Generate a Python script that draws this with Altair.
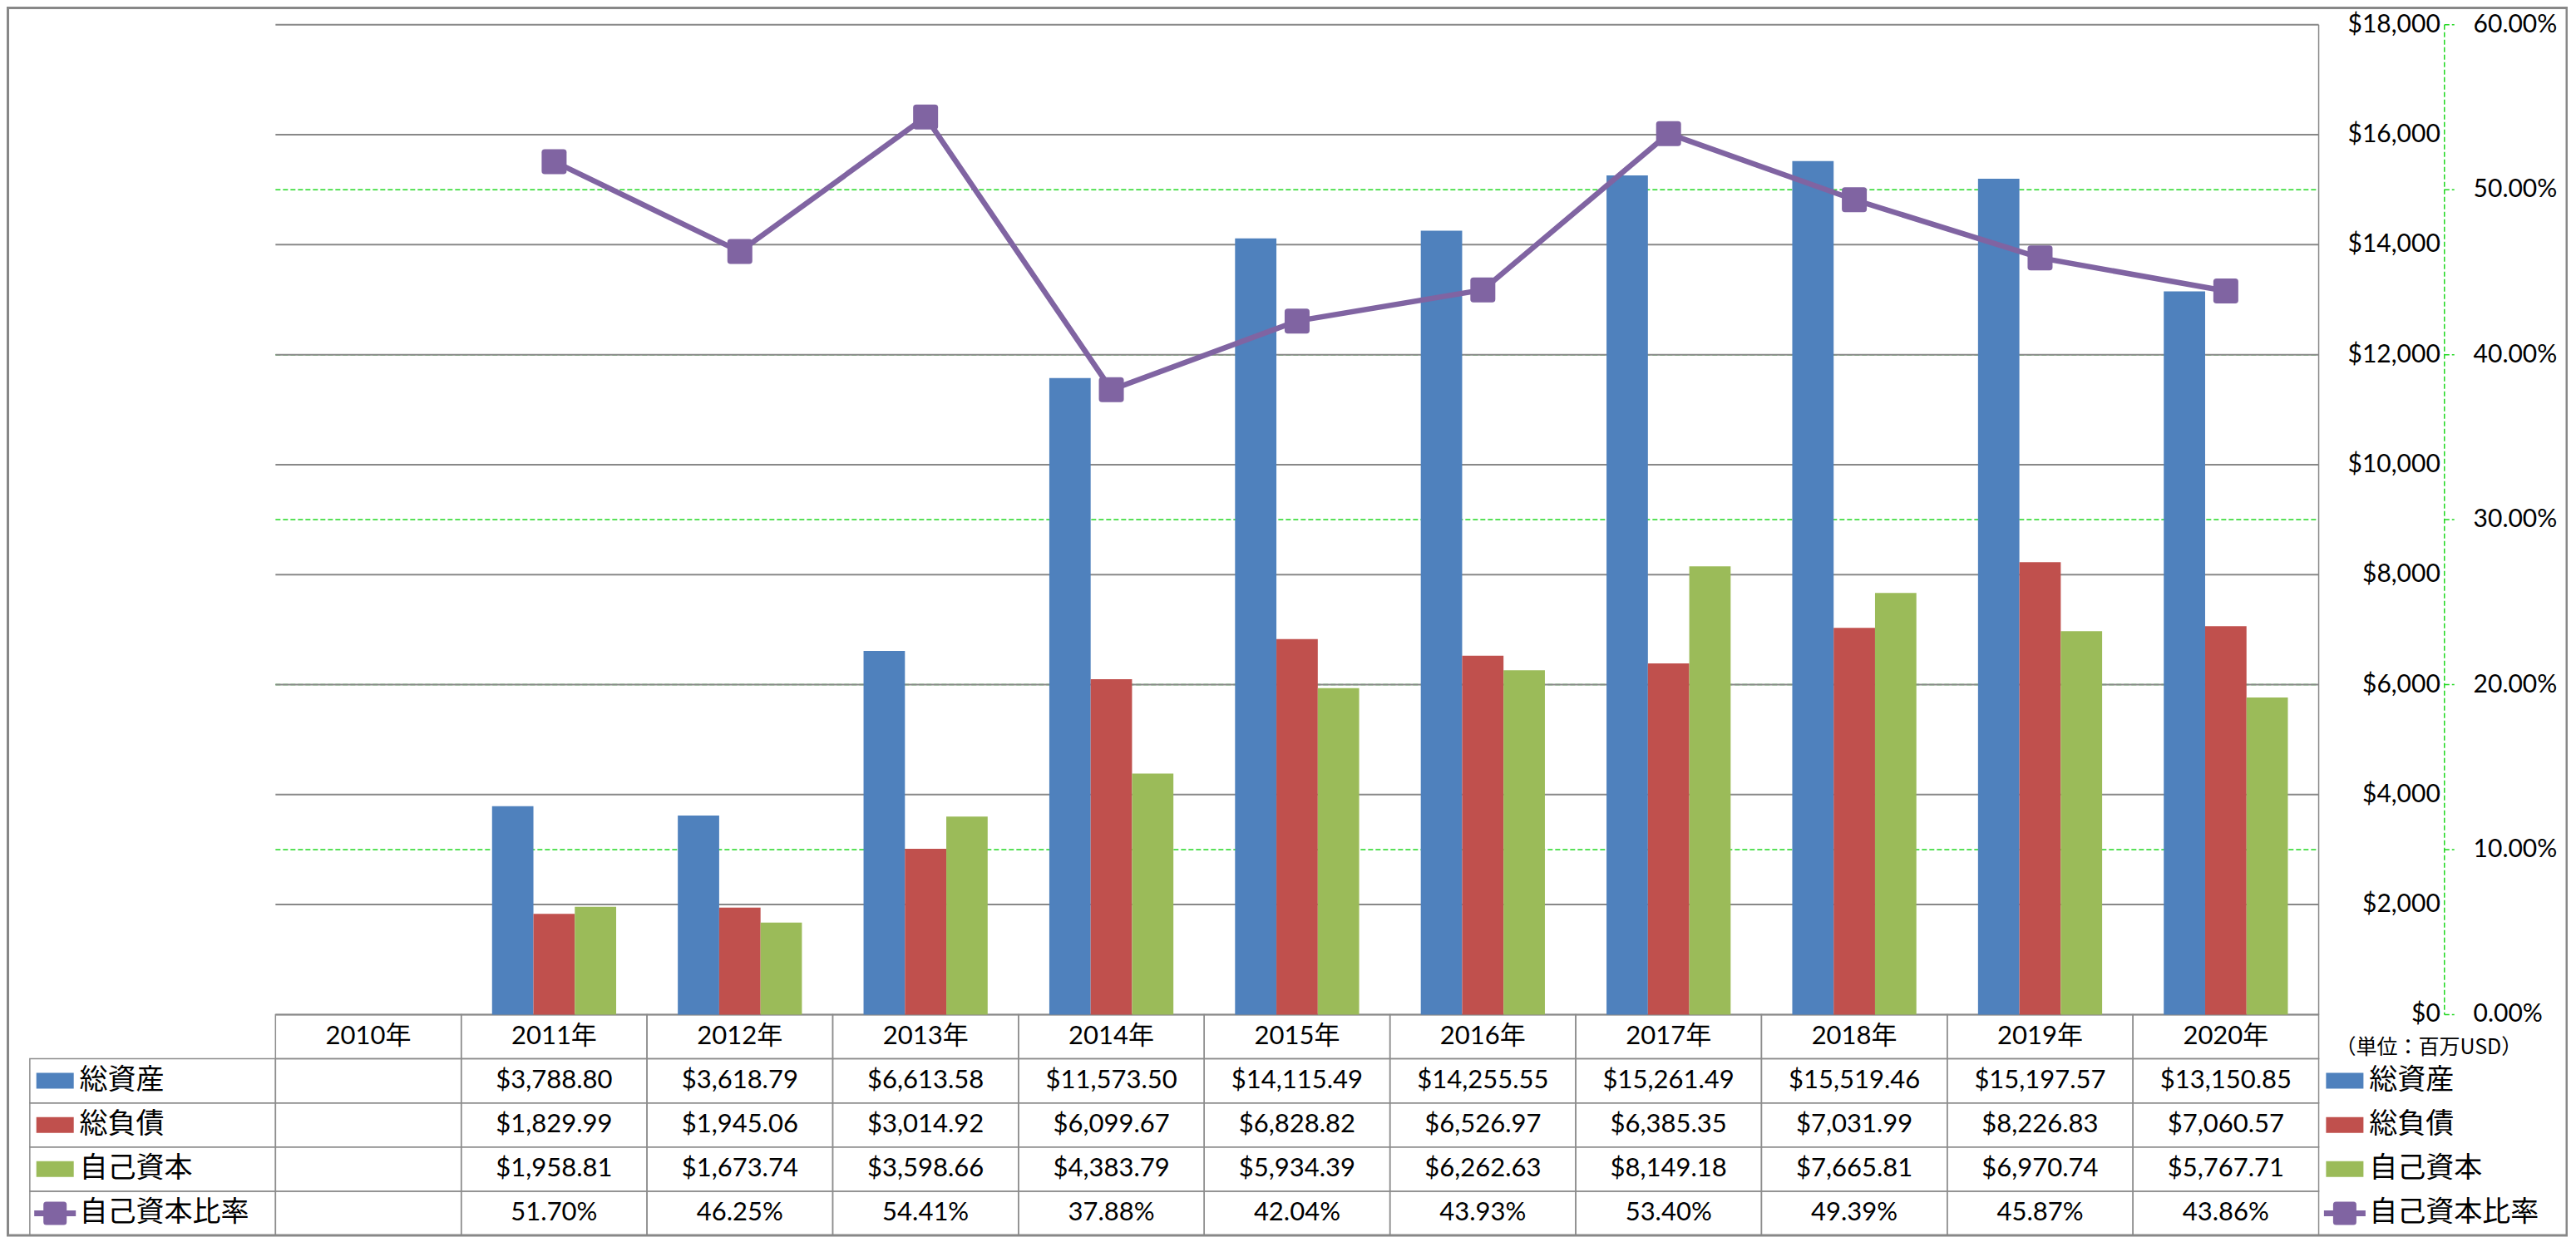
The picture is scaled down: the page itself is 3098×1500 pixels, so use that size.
import altair as alt
import pandas as pd

# ---------------- data ----------------
years = ["2010年", "2011年", "2012年", "2013年", "2014年", "2015年",
         "2016年", "2017年", "2018年", "2019年", "2020年"]
total_assets = [None, 3788.80, 3618.79, 6613.58, 11573.50, 14115.49,
                14255.55, 15261.49, 15519.46, 15197.57, 13150.85]
total_liabilities = [None, 1829.99, 1945.06, 3014.92, 6099.67, 6828.82,
                     6526.97, 6385.35, 7031.99, 8226.83, 7060.57]
equity = [None, 1958.81, 1673.74, 3598.66, 4383.79, 5934.39,
          6262.63, 8149.18, 7665.81, 6970.74, 5767.71]
equity_ratio = [None, 0.5170, 0.4625, 0.5441, 0.3788, 0.4204,
                0.4393, 0.5340, 0.4939, 0.4587, 0.4386]

series_names = ["総資産", "総負債", "自己資本"]
ratio_name = "自己資本比率"
series_colors = ["#4F81BD", "#C0504D", "#9BBB59"]
ratio_color = "#8064A2"
value_ticks = [0, 2000, 4000, 6000, 8000, 10000, 12000, 14000, 16000, 18000]
pct_ticks = [0.0, 0.1, 0.2, 0.3, 0.4, 0.5, 0.6]
unit_label = "（単位：百万USD）"
header_key = "年度"

# ---------------- layout helpers (reference pixel -> chart pixel) ----------------
W, H = 3080, 1480
KX = (W - 2) / 3094.0
KY = (H - 3) / 1496.0


def sx(v):
    return 1 + (v - 1) * KX


def sy(v):
    return 1 + (v - 1) * KY


GRID = "#888888"
TABLE = "#8d8d8d"
GREEN = "#22D822"
NUM_FONT = "Lato, 'Noto Sans CJK JP'"
JP_FONT = "'Noto Sans CJK JP'"

# ---------------- tables ----------------
series_values = [total_assets, total_liabilities, equity]
bar_rows = []
for name, vals in zip(series_names, series_values):
    for y, v in zip(years, vals):
        if v is not None:
            bar_rows.append({"year": y, "series": name, "value": v, "row": name})
bars_df = pd.DataFrame(bar_rows)

ratio_df = pd.DataFrame([{"year": y, "ratio": r, "row": ratio_name}
                         for y, r in zip(years, equity_ratio) if r is not None])

table_rows = [header_key] + series_names + [ratio_name]
cells_df = pd.DataFrame([{"year": y, "row": r} for r in table_rows for y in years])
header_df = pd.DataFrame({"year": years, "row": header_key})
legend_df = pd.DataFrame({"row": series_names, "color": series_colors})
legend_all_df = pd.DataFrame({"row": series_names + [ratio_name]})
ratio_legend_df = pd.DataFrame({"row": [ratio_name]})
vt_df = pd.DataFrame({"v": value_ticks})
pt_df = pd.DataFrame({"p": pct_ticks})
one_df = pd.DataFrame({"k": [0]})

# ---------------- scales ----------------
X = alt.X("year:N", sort=years, axis=None,
          scale=alt.Scale(domain=years, range=[sx(325), sx(2795)],
                          paddingInner=0, paddingOuter=0))
YV_SCALE = alt.Scale(domain=[0, 18000], range=[sy(1228), sy(22)], nice=False, zero=False)
YP_SCALE = alt.Scale(domain=[0, 0.6], range=[sy(1228), sy(22)], nice=False, zero=False)
ROW_SCALE = alt.Scale(domain=table_rows, range=[sy(1228), sy(1497)],
                      paddingInner=0, paddingOuter=0)
ROW = alt.Y("row:N", sort=table_rows, axis=None, scale=ROW_SCALE)
COLOR = alt.Color("row:N", legend=None,
                  scale=alt.Scale(domain=series_names, range=series_colors))

ROUND_SQ = ("M -0.75 -1 L 0.75 -1 Q 1 -1 1 -0.75 L 1 0.75 Q 1 1 0.75 1 "
            "L -0.75 1 Q -1 1 -1 0.75 L -1 -0.75 Q -1 -1 -0.75 -1 Z")

# ---------------- layers ----------------
cells = alt.Chart(cells_df).mark_rect(fillOpacity=0, stroke=TABLE, strokeWidth=1.5).encode(
    x=X, y=ROW)
left_cells = alt.Chart(legend_all_df).mark_rect(fillOpacity=0, stroke=TABLE, strokeWidth=1.5).encode(
    x=alt.value(sx(28)), x2=alt.value(sx(325)), y=ROW)

grid_green = alt.Chart(pt_df).transform_filter(
    (alt.datum.p > 0.001) & (alt.datum.p < 0.599)
).mark_rule(color=GREEN, strokeWidth=1.5, strokeDash=[6, 3]).encode(
    x=alt.value(sx(325)), x2=alt.value(sx(2795)),
    y=alt.Y("p:Q", scale=YP_SCALE, axis=None))

grid_gray = alt.Chart(vt_df).mark_rule(color=GRID, strokeWidth=2).encode(
    x=alt.value(sx(325)), x2=alt.value(sx(2795)),
    y=alt.Y("v:Q", scale=YV_SCALE, axis=None))

right_edge = alt.Chart(one_df).mark_rule(color=GRID, strokeWidth=1.5).encode(
    x=alt.value(sx(2795)), y=alt.value(sy(22)), y2=alt.value(sy(1228)))

green_axis = alt.Chart(one_df).mark_rule(color=GREEN, strokeWidth=1.5, strokeDash=[6, 3]).encode(
    x=alt.value(sx(2947)), y=alt.value(sy(22)), y2=alt.value(sy(1228)))

green_ticks = alt.Chart(pt_df).mark_rule(color=GREEN, strokeWidth=1.5, strokeDash=[6, 3]).encode(
    x=alt.value(sx(2947)), x2=alt.value(sx(2959)),
    y=alt.Y("p:Q", scale=YP_SCALE, axis=None))

bars = alt.Chart(bars_df).mark_bar(strokeWidth=0).encode(
    x=X,
    xOffset=alt.XOffset("series:N", sort=series_names,
                        scale=alt.Scale(domain=series_names, paddingInner=0, paddingOuter=0.745)),
    y=alt.Y("value:Q", scale=YV_SCALE, axis=None),
    color=alt.Color("series:N", legend=None,
                    scale=alt.Scale(domain=series_names, range=series_colors)))

ratio_line = alt.Chart(ratio_df).mark_line(color=ratio_color, strokeWidth=6.5).encode(
    x=X, y=alt.Y("ratio:Q", scale=YP_SCALE, axis=None))
ratio_pts = alt.Chart(ratio_df).mark_point(shape=ROUND_SQ, size=900, filled=True,
                                           color=ratio_color, opacity=1).encode(
    x=X, y=alt.Y("ratio:Q", scale=YP_SCALE, axis=None))

v_labels = alt.Chart(vt_df).mark_text(align="right", baseline="middle", font=NUM_FONT,
                                      fontSize=30, color="black").encode(
    x=alt.value(sx(2942)), y=alt.Y("v:Q", scale=YV_SCALE, axis=None),
    text=alt.Text("v:Q", format="$,d"))
p_labels = alt.Chart(pt_df).mark_text(align="left", baseline="middle", font=NUM_FONT,
                                      fontSize=30, color="black").encode(
    x=alt.value(sx(2982)), y=alt.Y("p:Q", scale=YP_SCALE, axis=None),
    text=alt.Text("p:Q", format=".2%"))

header_text = alt.Chart(header_df).mark_text(baseline="middle", font=NUM_FONT,
                                             fontSize=31, color="black").encode(
    x=X, y=ROW, text="year:N")
value_text = alt.Chart(bars_df).mark_text(baseline="middle", font=NUM_FONT,
                                          fontSize=31, color="black").encode(
    x=X, y=ROW, text=alt.Text("value:Q", format="$,.2f"))
ratio_text = alt.Chart(ratio_df).mark_text(baseline="middle", font=NUM_FONT,
                                           fontSize=31, color="black").encode(
    x=X, y=ROW, text=alt.Text("ratio:Q", format=".2%"))


def legend_layers(sw_left, text_left):
    sw = alt.Chart(legend_df).mark_tick(orient="horizontal", size=45, thickness=19,
                                        opacity=1).encode(
        x=alt.value(sx(sw_left + 22.5)), y=ROW, color=COLOR)
    ln = alt.Chart(ratio_legend_df).mark_tick(orient="horizontal", size=50, thickness=7,
                                              opacity=1, color=ratio_color).encode(
        x=alt.value(sx(sw_left + 22.5)), y=ROW)
    mk = alt.Chart(ratio_legend_df).mark_point(shape=ROUND_SQ, size=784, filled=True,
                                               opacity=1, color=ratio_color).encode(
        x=alt.value(sx(sw_left + 22.5)), y=ROW)
    tx = alt.Chart(legend_all_df).mark_text(align="left", baseline="middle", font=JP_FONT,
                                            fontSize=34, color="black").encode(
        x=alt.value(sx(text_left)), y=ROW, text="row:N")
    return [sw, ln, mk, tx]


unit_text = alt.Chart(one_df).transform_calculate(t=f"'{unit_label}'").mark_text(
    align="center", baseline="middle", font=JP_FONT, fontSize=25, color="black").encode(
    x=alt.value(sx(2928)), y=alt.value(sy(1268)), text="t:N")

border = alt.Chart(one_df).mark_rect(fillOpacity=0, stroke=GRID, strokeWidth=3).encode(
    x=alt.value(sx(1.5)), x2=alt.value(sx(3095)), y=alt.value(sy(1.5)), y2=alt.value(sy(1497)))

layers = [cells, left_cells, grid_green, grid_gray, right_edge, green_axis, green_ticks,
          bars, ratio_line, ratio_pts, v_labels, p_labels, header_text, value_text,
          ratio_text] + legend_layers(36, 88) + legend_layers(2804, 2856) + [unit_text, border]

chart = alt.layer(*layers).resolve_scale(
    y="independent", color="independent"
).properties(
    width=W, height=H, padding=0,
    autosize=alt.AutoSizeParams(type="none"),
    background="white",
).configure_view(stroke=None)

chart.save("out.html", embed_options={"renderer": "svg", "actions": False})
